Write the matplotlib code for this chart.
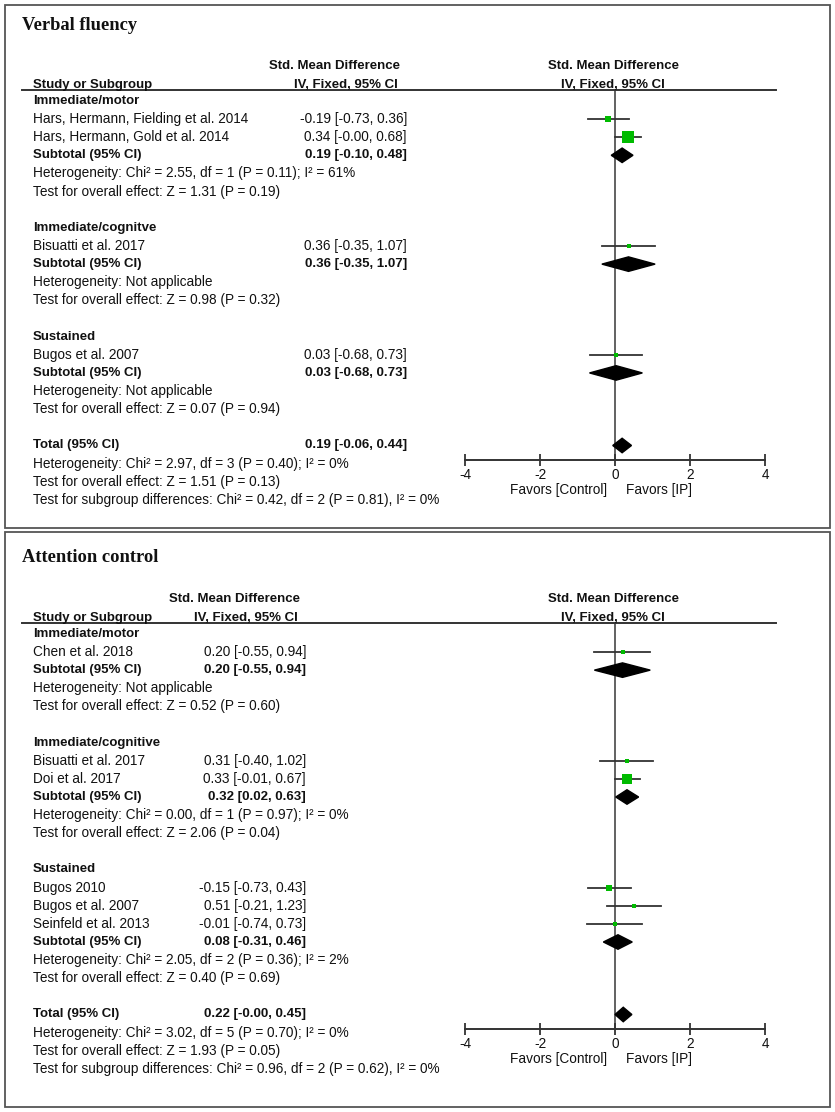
import matplotlib
matplotlib.use("Agg")
import matplotlib.pyplot as plt
import matplotlib.transforms as mtransforms
from matplotlib.lines import Line2D
from matplotlib.patches import Rectangle
import numpy as np

plt.rcParams['font.family'] = ['Liberation Sans', 'DejaVu Sans']
plt.rcParams['axes.unicode_minus'] = False

W, H = 835, 1112

# ---- Verbal fluency ----
vf_groups = ["Immediate/motor", "Immediate/cognitve", "Sustained"]
vf_studies = ["Hars, Hermann, Fielding et al. 2014", "Hars, Hermann, Gold et al. 2014",
              "Bisuatti et al. 2017", "Bugos et al. 2007"]
vf_study_group = [0, 0, 1, 2]
vf_est = [-0.19, 0.34, 0.36, 0.03]
vf_lo = [-0.73, -0.00, -0.35, -0.68]
vf_hi = [0.36, 0.68, 1.07, 0.73]
vf_sub_est = [0.19, 0.36, 0.03]
vf_sub_lo = [-0.10, -0.35, -0.68]
vf_sub_hi = [0.48, 1.07, 0.73]
vf_sub_het = ["Heterogeneity: Chi² = 2.55, df = 1 (P = 0.11); I² = 61%",
              "Heterogeneity: Not applicable",
              "Heterogeneity: Not applicable"]
vf_sub_z = ["Test for overall effect: Z = 1.31 (P = 0.19)",
            "Test for overall effect: Z = 0.98 (P = 0.32)",
            "Test for overall effect: Z = 0.07 (P = 0.94)"]
vf_total = [0.19, -0.06, 0.44]
vf_total_notes = ["Heterogeneity: Chi² = 2.97, df = 3 (P = 0.40); I² = 0%",
                  "Test for overall effect: Z = 1.51 (P = 0.13)",
                  "Test for subgroup differences: Chi² = 0.42, df = 2 (P = 0.81), I² = 0%"]

# ---- Attention control ----
ac_groups = ["Immediate/motor", "Immediate/cognitive", "Sustained"]
ac_studies = ["Chen et al. 2018", "Bisuatti et al. 2017", "Doi et al. 2017",
              "Bugos 2010", "Bugos et al. 2007", "Seinfeld et al. 2013"]
ac_study_group = [0, 1, 1, 2, 2, 2]
ac_est = [0.20, 0.31, 0.33, -0.15, 0.51, -0.01]
ac_lo = [-0.55, -0.40, -0.01, -0.73, -0.21, -0.74]
ac_hi = [0.94, 1.02, 0.67, 0.43, 1.23, 0.73]
ac_sub_est = [0.20, 0.32, 0.08]
ac_sub_lo = [-0.55, 0.02, -0.31]
ac_sub_hi = [0.94, 0.63, 0.46]
ac_sub_het = ["Heterogeneity: Not applicable",
              "Heterogeneity: Chi² = 0.00, df = 1 (P = 0.97); I² = 0%",
              "Heterogeneity: Chi² = 2.05, df = 2 (P = 0.36); I² = 2%"]
ac_sub_z = ["Test for overall effect: Z = 0.52 (P = 0.60)",
            "Test for overall effect: Z = 2.06 (P = 0.04)",
            "Test for overall effect: Z = 0.40 (P = 0.69)"]
ac_total = [0.22, -0.00, 0.45]
ac_total_notes = ["Heterogeneity: Chi² = 3.02, df = 5 (P = 0.70); I² = 0%",
                  "Test for overall effect: Z = 1.93 (P = 0.05)",
                  "Test for subgroup differences: Chi² = 0.96, df = 2 (P = 0.62), I² = 0%"]

ticks = [-4, -2, 0, 2, 4]

GREEN = '#00bb00'
LINE = '#333333'
TXT = '#111111'
FS = 9.8     # normal text
FSB = 9.5    # bold text

fig = plt.figure(figsize=(W / 100, H / 100), dpi=100)


def fx(px):
    return px / W


def fy(py):
    return 1 - py / H


def ci_text(e, l, h):
    return f"{e:.2f} [{l:.2f}, {h:.2f}]"


def draw_panel(title, groups, studies, sgroup, est, lo, hi, s_est, s_lo, s_hi,
               s_het, s_z, total, total_notes,
               box_top, box_bot, title_y, hdr1_y, hdr2_y, line_y, axis_y,
               val_x, hdr_x):
    fig.add_artist(Rectangle((fx(5), fy(box_bot)), fx(830) - fx(5), fy(box_top) - fy(box_bot),
                             transform=fig.transFigure, fill=False, lw=1.3, ec='#555555'))
    fig.text(fx(22), fy(title_y), title, family='Liberation Serif', weight='bold',
             size=13.3, va='center', color=TXT)
    # column headers
    fig.text(fx(hdr_x), fy(hdr1_y), "Std. Mean Difference", ha='right', va='center',
             weight='bold', size=FSB, color=TXT)
    fig.text(fx(hdr_x - 2), fy(hdr2_y), "IV, Fixed, 95% CI", ha='right', va='center',
             weight='bold', size=FSB, color=TXT)
    fig.text(fx(33), fy(hdr2_y), "Study or Subgroup", ha='left', va='center',
             weight='bold', size=FSB, color=TXT)
    fig.text(fx(613), fy(hdr1_y), "Std. Mean Difference", ha='center', va='center',
             weight='bold', size=FSB, color=TXT)
    fig.text(fx(613), fy(hdr2_y), "IV, Fixed, 95% CI", ha='center', va='center',
             weight='bold', size=FSB, color=TXT)
    fig.add_artist(Line2D([fx(22), fx(776)], [fy(line_y), fy(line_y)],
                          transform=fig.transFigure, color=LINE, lw=1.4))

    # inverse-variance weights from the CIs, for the box sizes
    se = (np.array(hi) - np.array(lo)) / (2 * 1.96)
    w = 1 / se ** 2
    pct = w / w.sum() * 100
    side_px = 1.5 + 0.52 * pct ** 0.75

    # row layout
    rows = []
    for g, gname in enumerate(groups):
        rows.append(('group', gname, None))
        for i, s in enumerate(studies):
            if sgroup[i] == g:
                rows.append(('study', s, i))
        rows.append(('sub', "Subtotal (95% CI)", g))
        rows.append(('note', s_het[g], None))
        rows.append(('note', s_z[g], None))
        rows.append(('blank', '', None))
    total_row = len(rows)
    rows.append(('total', "Total (95% CI)", None))
    for n in total_notes:
        rows.append(('note', n, None))

    axis_row = total_row + 0.8
    ax = fig.add_axes([fx(465), fy(axis_y), fx(765) - fx(465), (axis_y - line_y) / H])
    ax.set_xlim(-4, 4)
    ax.set_ylim(axis_row, -0.6)
    ax.patch.set_alpha(0)
    for sp in ['left', 'right', 'top']:
        ax.spines[sp].set_visible(False)
    ax.spines['bottom'].set_color(LINE)
    ax.spines['bottom'].set_linewidth(1.4)
    ax.set_yticks([])
    ax.set_xticks(ticks)
    ax.set_xticklabels([str(t) for t in ticks])
    ax.tick_params(axis='x', direction='inout', length=8, width=1.3, color=LINE,
                   labelsize=FS, labelcolor=TXT, pad=2)
    ax.axvline(0, color='#555555', lw=1.3, zorder=1)
    ax.text(-0.22, axis_row + 1.65, "Favors [Control]", ha='right', va='center',
            size=FS, color=TXT, clip_on=False)
    ax.text(0.3, axis_row + 1.65, "Favors [IP]", ha='left', va='center',
            size=FS, color=TXT, clip_on=False)

    tr = mtransforms.blended_transform_factory(fig.transFigure, ax.transData)
    hh = 0.4
    for r, (kind, label, idx) in enumerate(rows):
        bold = kind in ('group', 'sub', 'total')
        if label:
            ax.text(fx(33), r, label, transform=tr, ha='left', va='center',
                    size=FSB if bold else FS,
                    weight='bold' if bold else 'normal', color=TXT, clip_on=False)
        if kind == 'study':
            ax.text(fx(val_x), r, ci_text(est[idx], lo[idx], hi[idx]), transform=tr,
                    ha='right', va='center', size=FS, color=TXT, clip_on=False)
            ax.plot([lo[idx], hi[idx]], [r, r], color=LINE, lw=1.3, zorder=2)
            ax.plot(est[idx], r, marker='s', ms=side_px[idx] * 0.72, color=GREEN,
                    mec=GREEN, mew=0, zorder=3)
        elif kind == 'sub':
            ax.text(fx(val_x), r, ci_text(s_est[idx], s_lo[idx], s_hi[idx]), transform=tr,
                    ha='right', va='center', size=FSB, weight='bold', color=TXT, clip_on=False)
            ax.fill([s_lo[idx], s_est[idx], s_hi[idx], s_est[idx]],
                    [r, r - hh, r, r + hh], color='black', zorder=3)
        elif kind == 'total':
            ax.text(fx(val_x), r, ci_text(*total), transform=tr,
                    ha='right', va='center', size=FSB, weight='bold', color=TXT, clip_on=False)
            ax.fill([total[1], total[0], total[2], total[0]],
                    [r, r - hh, r, r + hh], color='black', zorder=3)


draw_panel("Verbal fluency", vf_groups, vf_studies, vf_study_group, vf_est, vf_lo, vf_hi,
           vf_sub_est, vf_sub_lo, vf_sub_hi, vf_sub_het, vf_sub_z, vf_total, vf_total_notes,
           box_top=5, box_bot=528, title_y=25, hdr1_y=66, hdr2_y=85, line_y=90, axis_y=460,
           val_x=407, hdr_x=400)

draw_panel("Attention control", ac_groups, ac_studies, ac_study_group, ac_est, ac_lo, ac_hi,
           ac_sub_est, ac_sub_lo, ac_sub_hi, ac_sub_het, ac_sub_z, ac_total, ac_total_notes,
           box_top=532, box_bot=1107, title_y=558, hdr1_y=599, hdr2_y=618, line_y=623,
           axis_y=1029, val_x=306, hdr_x=300)

fig.savefig("out.png", dpi=100, facecolor='white')
